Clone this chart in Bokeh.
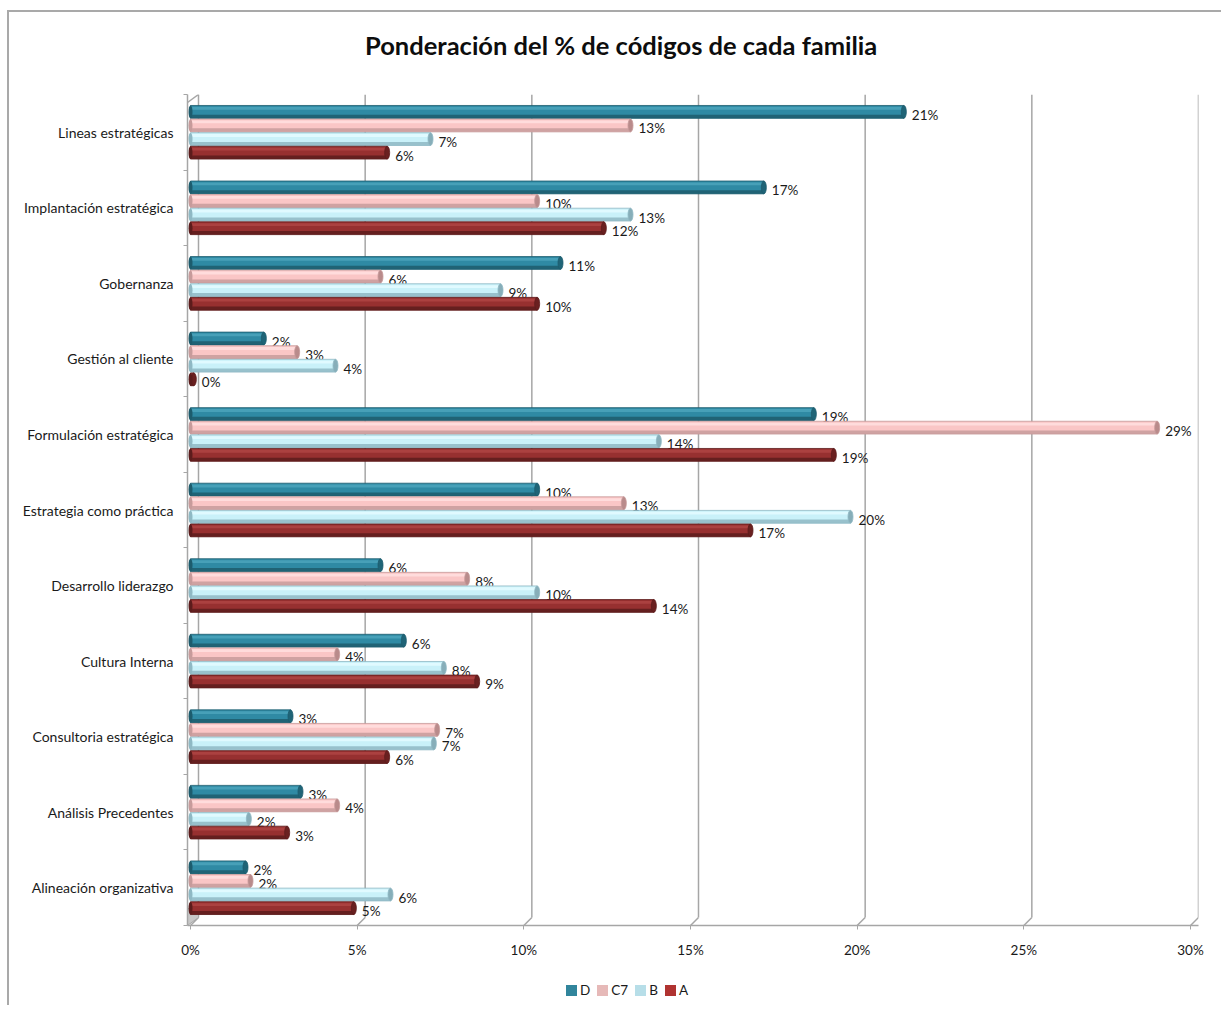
from bokeh.plotting import figure
from bokeh.layouts import column
from bokeh.models import (ColumnDataSource, FixedTicker, NumeralTickFormatter,
                          Range1d, Div)
from bokeh.core.properties import value
from bokeh.embed import file_html
from bokeh.resources import INLINE

TITLE = "Ponderación del % de códigos de cada familia"

# Families, listed top to bottom
categories = [
    "Lineas estratégicas",
    "Implantación estratégica",
    "Gobernanza",
    "Gestión al cliente",
    "Formulación estratégica",
    "Estrategia como práctica",
    "Desarrollo liderazgo",
    "Cultura Interna",
    "Consultoria estratégica",
    "Análisis Precedentes",
    "Alineación organizativa",
]

# Percentage of codes per family, by series
series_names = ["D", "C7", "B", "A"]
D_vals = [21.4, 17.2, 11.1, 2.2, 18.7, 10.4, 5.7, 6.4, 3.0, 3.3, 1.65]
C7_vals = [13.2, 10.4, 5.7, 3.2, 29.0, 13.0, 8.3, 4.4, 7.4, 4.4, 1.8]
B_vals = [7.2, 13.2, 9.3, 4.35, 14.05, 19.8, 10.4, 7.6, 7.3, 1.75, 6.0]
A_vals = [5.9, 12.4, 10.4, 0.1, 19.3, 16.8, 13.9, 8.6, 5.9, 2.9, 4.9]

x_ticks = [0, 0.05, 0.10, 0.15, 0.20, 0.25, 0.30]

# colours: (main, highlight, shadow, cap, legend swatch)
palette = {
    "D":  ("#2f8aa4", "#4aa2ba", "#1d5c6d", "#1f6477", "#31859c"),
    "C7": ("#fac6c6", "#ffdede", "#c79b9b", "#b98b8b", "#e6b9b8"),
    "B":  ("#c9f1f9", "#e2fbff", "#8fb9c4", "#87aeb9", "#b7dee8"),
    "A":  ("#973030", "#ad4442", "#5c1c1c", "#6a2020", "#b03331"),
}

values = {"D": D_vals, "C7": C7_vals, "B": B_vals, "A": A_vals}

n = len(categories)
PX = 1000 / 0.30          # pixels per unit on the x scale
DEPTH = 8                 # 3-D depth of the back wall, pixels
x_start = -3 / PX
x_end = 0.30 + DEPTH / PX
y_start = -0.5
y_end = n - 0.5

W = 1214
TITLE_H = 70
H = 878
left_b, top_b = 178, 12
frame_w = round((x_end - x_start) * PX)
frame_h = 831
ROW = frame_h / n          # pixels per category row

p = figure(
    width=W, height=H,
    x_range=Range1d(x_start, x_end), y_range=Range1d(y_start, y_end),
    output_backend="svg", toolbar_location=None,
    min_border_left=left_b, min_border_top=top_b,
    min_border_right=W - left_b - frame_w,
    min_border_bottom=H - top_b - frame_h,
    background_fill_color="white", border_fill_color="white",
    margin=0,
)
p.outline_line_color = None
p.xgrid.visible = False
p.ygrid.visible = False

# Back wall gridlines with their slanted feet to the floor
gx = [t + DEPTH / PX for t in x_ticks]
y_foot = y_start + DEPTH / ROW
p.segment(x0=gx, y0=[y_end] * len(gx), x1=gx, y1=[y_foot] * len(gx),
          line_color="#a6a6a6", line_width=1.5)
p.segment(x0=gx, y0=[y_foot] * len(gx), x1=x_ticks,
          y1=[y_start] * len(gx), line_color="#a6a6a6", line_width=1.5)
# left wall: top slant and floor shading
p.segment(x0=[x_start], y0=[y_end - DEPTH / ROW], x1=[DEPTH / PX], y1=[y_end],
          line_color="#a6a6a6", line_width=1.5)
p.patch(x=[x_start, DEPTH / PX, DEPTH / PX, x_start],
        y=[y_start, y_foot, y_start + 24 / ROW, y_start + 16 / ROW],
        fill_color="#c8c8c8", line_color="#a6a6a6", line_width=1)

# Bars
pitch = 13.6 / ROW
bh = 12.8 / ROW
offsets = [1.5 * pitch, 0.5 * pitch, -0.5 * pitch, -1.5 * pitch]
for s, off in zip(series_names, offsets):
    main, hi, sh, cap, sw = palette[s]
    xs = [v / 100 for v in values[s]]
    ys = [n - 1 - i + off for i in range(n)]
    src = ColumnDataSource(dict(
        x=xs, y=ys,
        y_hi=[y + 0.28 * bh for y in ys],
        y_sh=[y - 0.36 * bh for y in ys],
        lab=[f"{round(v)}%" for v in values[s]],
    ))
    p.hbar(y="y", left=0, right="x", height=bh, source=src,
           fill_color=main, line_color=sh, line_width=0.8)
    p.hbar(y="y_hi", left=0, right="x", height=0.22 * bh, source=src,
           fill_color=hi, line_color=None, fill_alpha=0.9)
    p.hbar(y="y_sh", left=0, right="x", height=0.28 * bh, source=src,
           fill_color=sh, line_color=None, fill_alpha=0.85)
    p.ellipse(x="x", y="y", width=5, height=bh, width_units="screen",
              height_units="data", source=src, fill_color=cap,
              line_color=sh, line_width=0.8)
    p.ellipse(x=0, y="y", width=4, height=bh, width_units="screen",
              height_units="data", source=src, fill_color=sh, line_color=None)
    p.text(x="x", y="y", text="lab", source=src, x_offset=8, y_offset=3,
           text_baseline="middle", text_align="left",
           text_font=value("Lato"), text_font_size="13.5px", text_color="#1a1a1a")

# X axis (front floor edge)
p.xaxis.ticker = FixedTicker(ticks=x_ticks)
p.xaxis.formatter = NumeralTickFormatter(format="0%")
p.xaxis.axis_line_color = "#a6a6a6"
p.xaxis.axis_line_width = 1.5
p.xaxis.major_tick_line_color = "#a6a6a6"
p.xaxis.major_tick_in = 0
p.xaxis.major_tick_out = 4
p.xaxis.minor_tick_line_color = None
p.xaxis.major_label_standoff = 12
p.xaxis.major_label_text_font = "Lato"
p.xaxis.major_label_text_font_size = "13.5px"
p.xaxis.major_label_text_color = "#1a1a1a"

# Y axis: family names centred in their rows, ticks on row boundaries
p.yaxis.ticker = FixedTicker(ticks=list(range(n)),
                             minor_ticks=[i - 0.5 for i in range(n + 1)])
p.yaxis.major_label_overrides = {n - 1 - i: c for i, c in enumerate(categories)}
p.yaxis.axis_line_color = "#a6a6a6"
p.yaxis.axis_line_width = 1.5
p.yaxis.major_tick_line_color = None
p.yaxis.minor_tick_line_color = "#a6a6a6"
p.yaxis.minor_tick_in = 0
p.yaxis.minor_tick_out = 4
p.yaxis.major_label_standoff = 8
p.yaxis.major_label_text_font = "Lato"
p.yaxis.major_label_text_font_size = "14px"
p.yaxis.major_label_text_color = "#1a1a1a"

# Title row
title_div = Div(
    text=(f'<div style="padding-left:356px;padding-top:18px;font-family:Lato;'
          f'font-weight:bold;font-size:25.5px;line-height:30px;color:#0d0d0d;'
          f'white-space:nowrap">{TITLE}</div>'),
    width=W, height=TITLE_H, margin=0,
)

# Legend row under the chart
items = "".join(
    f'<span style="display:inline-block;width:11px;height:11px;'
    f'background:{palette[s][4]};margin-right:3px;vertical-align:-1px"></span>'
    f'<span style="display:inline-block;margin-right:7px">{s}</span>'
    for s in series_names
)
legend_div = Div(
    text=(f'<div style="padding-left:557px;padding-top:22px;font-family:Lato;'
          f'font-size:13.5px;color:#1a1a1a;line-height:16px;'
          f'white-space:nowrap">{items}</div>'),
    width=W, height=45, margin=0,
)

layout = column(
    title_div, p, legend_div, spacing=0,
    styles={"margin-left": "7px", "margin-top": "10px",
            "border-left": "2px solid #a9a9a9",
            "border-top": "2px solid #a9a9a9",
            "background": "white"},
)

open("out.html", "w").write(file_html(layout, INLINE))
